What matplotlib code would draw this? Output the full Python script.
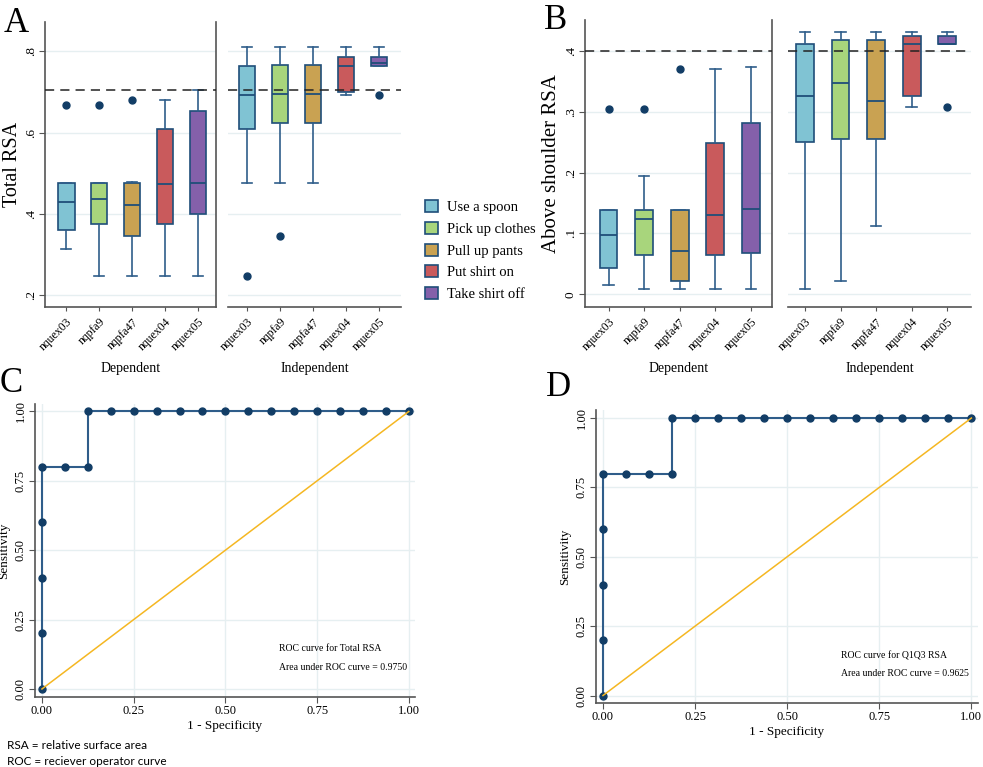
import matplotlib
matplotlib.use("Agg")
import matplotlib.pyplot as plt
from matplotlib.patches import Patch

plt.rcParams['font.family'] = ['Liberation Serif', 'DejaVu Serif']

W, H = 983, 767

tasks = ["nquex03", "nqpfa9", "nqpfa47", "nquex04", "nquex05"]
task_names = ["Use a spoon", "Pick up clothes", "Pull up pants", "Put shirt on", "Take shirt off"]
box_colors = ["#80c3d3", "#a8d57c", "#c9a252", "#c95a5c", "#8460aa"]

# Total RSA - dependent
a_dep_lo = [0.314, 0.247, 0.247, 0.247, 0.247]
a_dep_q1 = [0.361, 0.376, 0.346, 0.376, 0.400]
a_dep_med = [0.430, 0.437, 0.422, 0.474, 0.475]
a_dep_q3 = [0.477, 0.477, 0.476, 0.608, 0.652]
a_dep_hi = [0.477, 0.477, 0.479, 0.680, 0.704]
a_dep_out = [[0.667], [0.667], [0.680], [], []]

# Total RSA - independent
a_ind_lo = [0.475, 0.475, 0.475, 0.693, 0.764]
a_ind_q1 = [0.608, 0.623, 0.623, 0.699, 0.764]
a_ind_med = [0.693, 0.695, 0.695, 0.764, 0.771]
a_ind_q3 = [0.763, 0.766, 0.766, 0.786, 0.786]
a_ind_hi = [0.811, 0.811, 0.811, 0.811, 0.811]
a_ind_out = [[0.247], [0.346], [], [], [0.693]]

# Above shoulder RSA - dependent
b_dep_lo = [0.016, 0.009, 0.009, 0.009, 0.009]
b_dep_q1 = [0.043, 0.064, 0.021, 0.064, 0.068]
b_dep_med = [0.097, 0.123, 0.071, 0.131, 0.140]
b_dep_q3 = [0.139, 0.139, 0.139, 0.249, 0.282]
b_dep_hi = [0.139, 0.194, 0.139, 0.370, 0.374]
b_dep_out = [[0.304], [0.304], [0.370], [], []]

# Above shoulder RSA - independent
b_ind_lo = [0.009, 0.021, 0.112, 0.308, 0.412]
b_ind_q1 = [0.250, 0.256, 0.256, 0.326, 0.412]
b_ind_med = [0.326, 0.348, 0.317, 0.411, 0.412]
b_ind_q3 = [0.412, 0.418, 0.418, 0.425, 0.425]
b_ind_hi = [0.431, 0.431, 0.431, 0.431, 0.431]
b_ind_out = [[], [], [], [], [0.308]]

cut_total = 0.704
cut_above = 0.40

# ROC curves
fpr_c = [0, 0, 0, 0, 0, 0.0625, 0.125, 0.125, 0.1875, 0.25, 0.3125, 0.375, 0.4375,
         0.5, 0.5625, 0.625, 0.6875, 0.75, 0.8125, 0.875, 0.9375, 1.0]
tpr_c = [0, 0.2, 0.4, 0.6, 0.8, 0.8, 0.8, 1, 1, 1, 1, 1, 1, 1, 1, 1, 1, 1, 1, 1, 1, 1]
fpr_d = [0, 0, 0, 0, 0, 0.0625, 0.125, 0.1875, 0.1875, 0.25, 0.3125, 0.375, 0.4375,
         0.5, 0.5625, 0.625, 0.6875, 0.75, 0.8125, 0.875, 0.9375, 1.0]
tpr_d = [0, 0.2, 0.4, 0.6, 0.8, 0.8, 0.8, 0.8, 1, 1, 1, 1, 1, 1, 1, 1, 1, 1, 1, 1, 1, 1]
diag = [0, 1]
auc_c = 0.9750
auc_d = 0.9625

edge = "#1f4e79"
whisk = "#2f5d8a"
dot = "#123d66"
gridc = "#e6eff1"
spinec = "#555555"


def px_axes(fig, left, top, right, bottom):
    return fig.add_axes([left / W, 1 - bottom / H, (right - left) / W, (bottom - top) / H])


def boxes(ax, lo, q1, med, q3, hi, out, xlim, ylim, yticks, yticklabels, cut, label, left_axis):
    stats = []
    for i in range(5):
        stats.append(dict(whislo=lo[i], q1=q1[i], med=med[i], q3=q3[i], whishi=hi[i], fliers=out[i]))
    parts = ax.bxp(stats, positions=range(1, 6), widths=0.5, capwidths=0.3, patch_artist=True,
                   boxprops=dict(edgecolor=edge, linewidth=1.2),
                   medianprops=dict(color=edge, linewidth=1.3),
                   whiskerprops=dict(color=whisk, linewidth=1.2),
                   capprops=dict(color=whisk, linewidth=1.2),
                   flierprops=dict(marker='o', markerfacecolor=dot, markeredgecolor=dot, markersize=5))
    for patch, c in zip(parts['boxes'], box_colors):
        patch.set_facecolor(c)
    ax.axhline(cut, color='#222222', linestyle=(0, (6, 4)), linewidth=1.1, zorder=5)
    ax.set_xlim(*xlim)
    ax.set_ylim(*ylim)
    ax.set_yticks(yticks)
    ax.yaxis.grid(True, color=gridc, linewidth=1.0)
    ax.set_axisbelow(True)
    ax.set_xticks(range(1, 6))
    ax.set_xticklabels(tasks, rotation=45, ha='right', rotation_mode='anchor', fontsize=8.5)
    ax.set_xlabel(label, fontsize=10, labelpad=6)
    ax.tick_params(axis='x', length=3, color=spinec)
    ax.spines['top'].set_visible(False)
    ax.spines['bottom'].set_color(spinec)
    ax.spines['bottom'].set_linewidth(1.2)
    if left_axis:
        ax.set_yticklabels(yticklabels, rotation=90, va='center', fontsize=9.5)
        ax.tick_params(axis='y', length=4, color=spinec, pad=2)
        for s in ['left', 'right']:
            ax.spines[s].set_color(spinec)
            ax.spines[s].set_linewidth(1.2)
    else:
        ax.set_yticklabels([])
        ax.tick_params(axis='y', length=0)
        ax.spines['left'].set_visible(False)
        ax.spines['right'].set_visible(False)


def roc(ax, fpr, tpr, xlim, ylim, t1, t2, tx, ty):
    ticks = [0, 0.25, 0.5, 0.75, 1.0]
    ax.plot(diag, diag, color='#f5b722', linewidth=1.1, zorder=3)
    ax.plot(fpr, tpr, color=whisk, linewidth=1.5, zorder=2)
    ax.plot(fpr, tpr, linestyle='none', marker='o', markersize=5, color=dot, zorder=2.5)
    ax.set_xlim(*xlim)
    ax.set_ylim(*ylim)
    ax.set_xticks(ticks)
    ax.set_yticks(ticks)
    ax.set_xticklabels(["0.00", "0.25", "0.50", "0.75", "1.00"], fontsize=9)
    ax.set_yticklabels(["0.00", "0.25", "0.50", "0.75", "1.00"], fontsize=9, rotation=90, va='center')
    ax.grid(True, color=gridc, linewidth=1.0)
    ax.set_axisbelow(True)
    ax.set_xlabel("1 - Specificity", fontsize=9.5, labelpad=2)
    ax.set_ylabel("Sensitivity", fontsize=9.5, labelpad=3)
    ax.tick_params(length=4, color=spinec, pad=2)
    ax.spines['top'].set_visible(False)
    ax.spines['right'].set_visible(False)
    for s in ['left', 'bottom']:
        ax.spines[s].set_color(spinec)
        ax.spines[s].set_linewidth(1.2)
    ax.text(tx, ty, t1, fontsize=7, transform=ax.transData)
    ax.text(tx, ty - 0.065, t2, fontsize=7, transform=ax.transData)


fig = plt.figure(figsize=(W / 100, H / 100), dpi=100)

# Panel A
ax1 = px_axes(fig, 45, 22, 216, 307)
boxes(ax1, a_dep_lo, a_dep_q1, a_dep_med, a_dep_q3, a_dep_hi, a_dep_out,
      (0.35, 5.55), (0.171, 0.872), [0.2, 0.4, 0.6, 0.8], [".2", ".4", ".6", ".8"],
      cut_total, "Dependent", True)
ax1.set_ylabel("Total RSA", fontsize=14.5, labelpad=2)
ax2 = px_axes(fig, 228, 22, 401, 307)
boxes(ax2, a_ind_lo, a_ind_q1, a_ind_med, a_ind_q3, a_ind_hi, a_ind_out,
      (0.42, 5.66), (0.171, 0.872), [0.2, 0.4, 0.6, 0.8], [".2", ".4", ".6", ".8"],
      cut_total, "Independent", False)

# Panel B
ax3 = px_axes(fig, 585, 20, 772, 307)
boxes(ax3, b_dep_lo, b_dep_q1, b_dep_med, b_dep_q3, b_dep_hi, b_dep_out,
      (0.34, 5.59), (-0.021, 0.451), [0, 0.1, 0.2, 0.3, 0.4], ["0", ".1", ".2", ".3", ".4"],
      cut_above, "Dependent", True)
ax3.set_ylabel("Above shoulder RSA", fontsize=15, labelpad=3)
ax4 = px_axes(fig, 788, 20, 971, 307)
boxes(ax4, b_ind_lo, b_ind_q1, b_ind_med, b_ind_q3, b_ind_hi, b_ind_out,
      (0.52, 5.67), (-0.021, 0.451), [0, 0.1, 0.2, 0.3, 0.4], ["0", ".1", ".2", ".3", ".4"],
      cut_above, "Independent", False)

handles = [Patch(facecolor=c, edgecolor=edge, linewidth=1.2) for c in box_colors]
fig.legend(handles, task_names, loc='upper left', bbox_to_anchor=(418 / W, 1 - 193 / H),
           frameon=False, fontsize=10.5, handlelength=0.9, handleheight=0.9,
           handletextpad=0.6, labelspacing=0.52, borderpad=0)

# Panel C and D
ax5 = px_axes(fig, 35, 404, 415, 697)
roc(ax5, fpr_c, tpr_c, (-0.019, 1.017), (-0.029, 1.027),
    "ROC curve for Total RSA", "Area under ROC curve = %.4f" % auc_c, 0.645, 0.135)
ax6 = px_axes(fig, 596, 410, 978, 703)
roc(ax6, fpr_d, tpr_d, (-0.019, 1.018), (-0.027, 1.029),
    "ROC curve for Q1Q3 RSA", "Area under ROC curve = %.4f" % auc_d, 0.645, 0.135)

# panel letters
for letter, x, y in [("A", 4, 32), ("B", 544, 29), ("C", 0, 392), ("D", 546, 396)]:
    fig.text(x / W, 1 - y / H, letter, fontsize=25, ha='left', va='baseline')

fig.text(7 / W, 1 - 749 / H, "RSA = relative surface area", fontsize=8.5, family=['Lato', 'DejaVu Sans'])
fig.text(7 / W, 1 - 765 / H, "ROC = reciever operator curve", fontsize=8.5, family=['Lato', 'DejaVu Sans'])

fig.savefig("out.png", dpi=100)
